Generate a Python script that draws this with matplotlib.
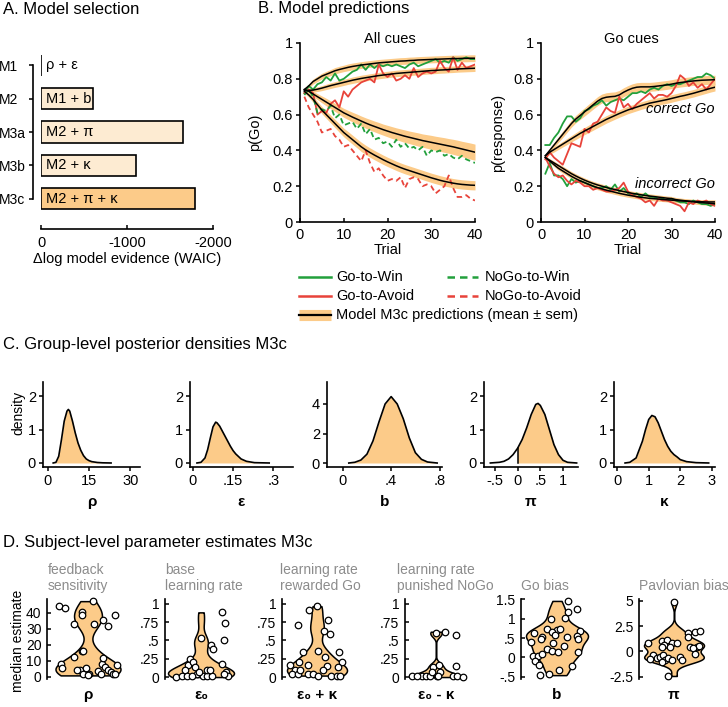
import numpy as np
import matplotlib
matplotlib.use('Agg')
import matplotlib.pyplot as plt

plt.rcParams['font.family'] = ['Liberation Sans', 'DejaVu Sans']
plt.rcParams['font.size'] = 10
plt.rcParams['axes.linewidth'] = 1.2

ORANGE = '#FCCB89'
LIGHT = '#FDEBD2'
GREEN = '#22A03C'
RED = '#E8433A'
GREY = '#8C8C8C'

# ---------------- data ----------------
# A. model selection
models = ['M1', 'M2', 'M3a', 'M3b', 'M3c']
model_desc = ['\u03c1 + \u03b5', 'M1 + b', 'M2 + \u03c0', 'M2 + \u03ba', 'M2 + \u03c0 + \u03ba']
waic = [0, -600, -1650, -1100, -1790]

# B. learning curves, trials 1..40
trial = np.arange(1, 41)
gw_obs = [.72,.76,.74,.77,.78,.81,.79,.83,.79,.80, .82,.84,.85,.88,.85,.88,.86,.88,.87,.88,
          .87,.88,.87,.86,.88,.89,.87,.88,.89,.90, .91,.89,.90,.89,.92,.90,.91,.92,.91,.91]
ga_obs = [.72,.74,.72,.60,.62,.61,.66,.68,.64,.73, .70,.74,.76,.78,.79,.80,.78,.88,.83,.81,
          .83,.79,.80,.82,.80,.86,.81,.83,.84,.83, .84,.90,.86,.84,.92,.85,.89,.86,.87,.88]
nw_obs = [.71,.74,.70,.61,.63,.62,.65,.58,.60,.54, .55,.56,.52,.55,.49,.52,.46,.47,.44,.45,
          .42,.46,.42,.44,.41,.42,.40,.42,.37,.40, .39,.40,.37,.38,.36,.35,.37,.35,.34,.33]
na_obs = [.70,.64,.60,.56,.50,.51,.52,.48,.46,.42, .43,.40,.37,.34,.40,.33,.28,.30,.26,.23,
          .24,.23,.25,.19,.24,.25,.24,.20,.21,.20, .16,.18,.20,.26,.19,.14,.14,.15,.13,.12]
gw_mod = [.74,.76,.785,.80,.815,.825,.835,.845,.852,.858, .864,.869,.873,.877,.880,.883,.886,.889,.891,.893,
          .895,.897,.899,.900,.902,.903,.905,.906,.907,.908, .909,.910,.911,.912,.913,.913,.914,.914,.915,.915]
ga_mod = [.735,.735,.737,.742,.748,.755,.762,.768,.774,.780, .786,.792,.797,.802,.806,.810,.814,.818,.821,.824,
          .827,.830,.832,.834,.836,.838,.840,.842,.844,.846, .847,.849,.850,.852,.853,.855,.856,.857,.858,.859]
nw_mod = [.74,.73,.715,.70,.685,.67,.655,.64,.625,.61, .598,.586,.575,.564,.553,.543,.534,.525,.516,.508,
          .500,.493,.486,.479,.473,.467,.461,.455,.450,.445, .440,.435,.430,.425,.420,.414,.408,.402,.396,.390]
na_mod = [.73,.71,.685,.655,.625,.60,.575,.55,.525,.50, .48,.46,.44,.42,.403,.388,.374,.361,.348,.336,
          .325,.314,.304,.295,.287,.279,.271,.263,.255,.247, .240,.233,.227,.222,.217,.213,.210,.208,.206,.205]
gw_sem = [.010,.012,.014,.015,.016,.017,.017,.018,.018,.018, .019,.019,.019,.019,.019,.019,.019,.019,.019,.019,
          .019,.019,.019,.019,.019,.019,.019,.019,.019,.019, .019,.019,.019,.019,.019,.019,.019,.019,.019,.019]
ga_sem = [.010,.011,.012,.013,.014,.015,.016,.016,.017,.017, .017,.018,.018,.018,.018,.018,.018,.018,.018,.018,
          .018,.018,.018,.018,.018,.018,.018,.018,.018,.018, .018,.018,.018,.018,.018,.018,.018,.018,.018,.018]
nw_sem = [.010,.012,.015,.017,.019,.021,.022,.023,.024,.025, .026,.027,.028,.028,.029,.030,.030,.031,.031,.032,
          .033,.033,.034,.035,.035,.036,.037,.037,.038,.039, .039,.040,.041,.041,.042,.043,.043,.044,.045,.045]
na_sem = [.010,.013,.016,.018,.020,.021,.022,.023,.024,.024, .025,.025,.025,.026,.026,.026,.026,.026,.026,.026,
          .026,.026,.026,.026,.026,.026,.026,.026,.026,.026, .026,.026,.026,.026,.026,.026,.026,.026,.026,.026]

cgw_obs = [.43,.43,.47,.50,.55,.59,.59,.56,.58,.62, .63,.65,.66,.68,.65,.67,.68,.69,.68,.70,
           .72,.72,.73,.72,.74,.75,.74,.76,.77,.76, .77,.77,.78,.79,.80,.81,.81,.83,.82,.80]
cga_obs = [.35,.39,.36,.34,.32,.38,.44,.43,.42,.52, .50,.55,.56,.60,.64,.62,.61,.70,.64,.66,
           .63,.66,.68,.70,.72,.69,.71,.71,.70,.72, .76,.82,.80,.76,.78,.75,.77,.74,.77,.80]
igw_obs = [.27,.33,.26,.26,.24,.20,.24,.22,.23,.22, .21,.20,.19,.19,.20,.18,.21,.17,.19,.16,
           .15,.16,.14,.16,.14,.14,.13,.13,.12,.13, .12,.11,.11,.10,.12,.11,.10,.10,.09,.10]
iga_obs = [.36,.31,.27,.25,.26,.23,.21,.23,.22,.20, .20,.18,.19,.18,.17,.17,.18,.19,.22,.17,
           .15,.14,.13,.11,.12,.09,.13,.12,.12,.11, .10,.09,.06,.11,.10,.12,.11,.12,.10,.09]
cgw_mod = [.37,.40,.43,.46,.49,.52,.55,.575,.595,.615, .635,.655,.675,.69,.697,.70,.702,.71,.725,.737,
           .747,.753,.755,.755,.755,.757,.76,.763,.766,.77, .775,.779,.782,.785,.788,.79,.792,.793,.794,.795]
cga_mod = [.37,.39,.405,.42,.435,.45,.465,.48,.495,.508, .521,.534,.547,.56,.573,.584,.595,.606,.616,.626,
           .634,.642,.650,.657,.664,.669,.674,.679,.684,.69, .696,.702,.707,.713,.719,.726,.733,.74,.747,.753]
igw_mod = [.36,.345,.33,.315,.30,.285,.27,.257,.245,.234, .224,.215,.207,.20,.193,.187,.181,.175,.17,.165,
           .16,.156,.152,.148,.145,.142,.139,.136,.133,.131, .125,.122,.119,.116,.113,.110,.108,.106,.104,.102]
iga_mod = [.36,.34,.32,.30,.285,.27,.255,.242,.23,.22, .21,.20,.192,.185,.178,.172,.166,.16,.155,.15,
           .146,.142,.138,.135,.132,.13,.128,.126,.124,.122, .12,.118,.117,.116,.115,.114,.113,.112,.112,.112]
cgw_sem = [.010,.012,.014,.016,.018,.019,.020,.021,.022,.023, .024,.024,.025,.025,.025,.025,.025,.025,.025,.025,
           .025,.025,.025,.025,.025,.025,.025,.025,.025,.025, .025,.025,.025,.025,.025,.025,.025,.025,.025,.025]
cga_sem = [.010,.012,.014,.015,.016,.017,.018,.019,.020,.020, .021,.021,.021,.021,.021,.021,.021,.021,.021,.021,
           .021,.021,.021,.021,.021,.021,.021,.021,.021,.021, .021,.021,.021,.021,.021,.021,.021,.021,.021,.021]
igw_sem = [.008,.009,.010,.011,.012,.012,.012,.012,.012,.012, .012,.012,.012,.012,.012,.012,.012,.012,.012,.012,
           .012,.012,.012,.012,.012,.012,.012,.012,.012,.012, .012,.012,.012,.012,.012,.012,.012,.012,.012,.012]
iga_sem = igw_sem

# C. group-level posterior densities
rho_x = [2, 3, 4, 5, 6, 7, 7.5, 8, 9, 10, 11, 12, 13, 14, 15, 16, 18, 20, 23]
rho_y = [0, .02, .2, .7, 1.25, 1.55, 1.6, 1.55, 1.25, .9, .6, .38, .22, .12, .07, .04, .015, .005, 0]
eps_x = [.015, .03, .045, .055, .065, .075, .085, .09, .1, .11, .12, .13, .14, .15, .16, .18, .2, .23, .285]
eps_y = [0, .02, .15, .4, .75, 1.08, 1.22, 1.2, 1.1, .95, .8, .65, .5, .37, .27, .12, .05, .01, 0]
b_x = [.05, .1, .15, .2, .25, .3, .35, .4, .45, .5, .55, .6, .65, .7, .78]
b_y = [0, .05, .2, .6, 1.5, 2.8, 4.0, 4.5, 4.0, 3.0, 1.7, .7, .25, .07, 0]
pi_x = [-.6, -.4, -.3, -.2, -.1, 0, .1, .2, .3, .4, .45, .5, .6, .7, .8, .9, 1.0, 1.1, 1.3]
pi_y = [0, .02, .05, .12, .25, .44, .7, 1.05, 1.45, 1.75, 1.78, 1.72, 1.45, 1.0, .55, .25, .08, .02, 0]
kap_x = [.25, .4, .6, .8, .9, 1.0, 1.1, 1.2, 1.3, 1.4, 1.5, 1.6, 1.7, 1.8, 1.9, 2.0, 2.2, 2.5, 2.9]
kap_y = [0, .02, .15, .65, 1.0, 1.3, 1.42, 1.38, 1.2, .95, .7, .5, .35, .25, .18, .1, .04, .01, 0]

# D. subject-level medians (value, horizontal jitter in px)
rho_v = [44.6, 43, 33, 40.4, 38.7, 47.4, 33.3, 35.8, 31.6, 38.7, 8, 5.9, 12.6, 16.4, 16.4, 4.2,
         4.2, 5.9, 1.7, 1.7, 1, 3.8, 8, 11.6, 1.7, 6.3, 4.6, 3.2, 2.1, 7.6, 2.1]
rho_j = [-29, -23, -14, -6, -6, 5, 6, 15, 20, 27, -27, -26, -14, -6, -5, -8, -11, -2, 1, -5, 0,
         10, 14, 15, 13, 17, 20, 23, 25, 29, 27]
e0_v = [.885, .74, .51, .54, .44, .38, .18, .25, .16, .21, .10, .14, 0, .01, .01, .04, .01, .01,
        .01, .09, .09, .01, .07, .01, .04, .07]
e0_j = [21, 24, 23, 0, 10, 12, 21, -11, -13, -8, -16, -6, -25, -19, -14, -4, 2, 6, 11, 6, 9, -9,
        25, 27, 23, -2]
epk_v = [.97, .92, .71, .78, .63, .59, .34, .36, .34, .17, .20, .16, .27, .15, .21, .14, .09, .04,
         .04, .04, .04, .02, .02, .02, .02, .10, .09]
epk_j = [0, -8, -19, 11, 7, 13, -14, 1, 22, -27, -18, -9, 8, 10, 25, 21, -22, -25, -19, -9, -4, 1,
         14, 20, 23, -17, 6]
emk_v = [.62, .58, .60, .14, .16, .15, .02, .01, .01, .01, .01, .07, .07, .01, .01, 0, .01, .01]
emk_j = [9, 20, 0, -3, 3, 20, -24, -14, -10, -6, 1, 4, -4, 17, 21, 27, -19, 2]
bias_v = [1.46, 1.25, 1.18, 1.01, .98, .73, .72, .73, .66, .58, .68, .55, .47, .52, .64, .52, .47,
          .39, .38, .21, .17, .15, .29, .15, .03, .03, -.09, -.2, .09, -.22, -.34, -.44, -.46]
bias_j = [11, 20, 11, 8, -6, -10, 0, 3, -5, -2, 23, 20, 21, 10, -23, -15, -16, -26, -4, -10, -5,
          1, 7, 21, -24, -19, -22, -18, -15, 15, 2, -8, -17]
pav_v = [4.9, .79, 1.05, 1.12, .86, .86, .62, .39, .46, 1.84, 1.94, 2.04, 1.45, .46, .46, .53, .3,
         -.26, -.36, -.69, -.79, -.53, -.36, -.86, -.69, -.86, -.59, -.86, -1.09, -2.43]
pav_j = [0, -26, -12, -7, -2, 3, -10, -4, -12, 14, 21, 26, 14, 16, 23, 25, 19, 21, -21, -17, -24,
         -14, -11, -9, -6, -2, 6, 8, -12, -6]

# ---------------- figure ----------------
W, H = 728, 707
fig = plt.figure(figsize=(W / 100, H / 100), dpi=100)


def px_axes(l, t, r, b):
    return fig.add_axes([l / W, 1 - b / H, (r - l) / W, (b - t) / H])


def ftext(x, y, s, **kw):
    fig.text(x / W, 1 - y / H, s, **kw)


def clean(ax):
    for s in ['top', 'right']:
        ax.spines[s].set_visible(False)
    ax.tick_params(direction='out', length=3, width=1.1, labelsize=10, pad=2)


ftext(3, 9, 'A. Model selection', fontsize=12, va='center')
ftext(258, 9, 'B. Model predictions', fontsize=12, va='center')
ftext(3, 345, 'C. Group-level posterior densities M3c', fontsize=12, va='center')
ftext(3, 543, 'D. Subject-level parameter estimates M3c', fontsize=12, va='center')

# ---- A ----
axA = px_axes(41, 52, 213, 212)
bar_cols = [LIGHT, LIGHT, LIGHT, LIGHT, ORANGE]
axA.barh(range(5), waic, height=0.63, color=bar_cols, edgecolor='black', linewidth=1.2)
for i, d in enumerate(model_desc):
    axA.text(-55, i, d, va='center', ha='left', fontsize=10.5)
axA.set_xlim(0, -2000)
axA.set_ylim(4.39, -0.39)
clean(axA)
axA.spines['left'].set_position(('outward', 6))
axA.spines['left'].set_bounds(0, 4)
axA.spines['bottom'].set_position(('outward', 12))
axA.spines['bottom'].set_bounds(-2000, 0)
axA.set_yticks(range(5))
axA.set_yticklabels(models)
axA.tick_params(axis='y', pad=21)
for lab in axA.get_yticklabels():
    lab.set_horizontalalignment('left')
axA.set_xticks([0, -1000, -2000])
axA.set_xticklabels(['0', '-1000', '-2000'])
axA.tick_params(axis='x', direction='in', pad=5, labelsize=10.5)
axA.set_xlabel('\u0394log model evidence (WAIC)', fontsize=10.5, labelpad=2)

# ---- B ----
def curves(ax, obs, mods, sems, styles):
    for m, s in zip(mods, sems):
        m = np.array(m); s = np.array(s)
        ax.fill_between(trial, m - s, m + s, color=ORANGE, lw=0)
    for o, (c, ls) in zip(obs, styles):
        ax.plot(trial, o, color=c, lw=1.3, ls=ls)
    for m in mods:
        ax.plot(trial, m, color='black', lw=1.1)
    ax.set_xlim(0, 40)
    ax.set_ylim(0, 1)
    ax.set_xticks([0, 10, 20, 30, 40])
    ax.set_yticks([0, .2, .4, .6, .8, 1])
    ax.set_yticklabels(['0', '0.2', '0.4', '0.6', '0.8', '1'])
    clean(ax)
    ax.tick_params(labelsize=10.5)
    ax.tick_params(axis='x', direction='in', pad=4)
    ax.set_xlabel('Trial', fontsize=10.5)
    ax.xaxis.set_label_coords(0.5, -0.12)


dash = (0, (3, 2))
axB1 = px_axes(300, 43, 475, 222)
curves(axB1, [gw_obs, ga_obs, nw_obs, na_obs], [gw_mod, ga_mod, nw_mod, na_mod],
       [gw_sem, ga_sem, nw_sem, na_sem],
       [(GREEN, '-'), (RED, '-'), (GREEN, dash), (RED, dash)])
axB1.text(20.5, 1.0, 'All cues', ha='center', va='baseline', fontsize=10.5)
axB1.set_ylabel('p(Go)', fontsize=10.5)
axB1.yaxis.set_label_coords(-0.215, 0.5)

axB2 = px_axes(541, 43, 715, 222)
curves(axB2, [cgw_obs, cga_obs, igw_obs, iga_obs], [cgw_mod, cga_mod, igw_mod, iga_mod],
       [cgw_sem, cga_sem, igw_sem, iga_sem],
       [(GREEN, '-'), (RED, '-'), (GREEN, '-'), (RED, '-')])
axB2.text(20.7, 1.0, 'Go cues', ha='center', va='baseline', fontsize=10.5)
axB2.set_ylabel('p(response)', fontsize=10.5)
axB2.yaxis.set_label_coords(-0.205, 0.5)
axB2.text(40, 0.63, 'correct Go', ha='right', va='center', style='italic', fontsize=10.5)
axB2.text(40, 0.21, 'incorrect Go', ha='right', va='center', style='italic', fontsize=10.5)

# legend drawn in a pixel-space overlay
axL = px_axes(290, 265, 620, 325)
axL.set_xlim(290, 620)
axL.set_ylim(325, 265)
axL.axis('off')
axL.plot([299, 331], [277, 277], color=GREEN, lw=1.8)
axL.plot([299, 331], [296, 296], color=RED, lw=1.8)
axL.plot([299, 331], [315, 315], color=ORANGE, lw=8, solid_capstyle='butt')
axL.plot([299, 331], [315, 315], color='black', lw=1.6)
axL.plot([447, 478], [277, 277], color=GREEN, lw=1.8, ls=(0, (3, 2)))
axL.plot([447, 478], [296, 296], color=RED, lw=1.8, ls=(0, (3, 2)))
for x, y, s in [(336, 277, 'Go-to-Win'), (336, 296, 'Go-to-Avoid'),
                (336, 315, 'Model M3c predictions (mean \u00b1 sem)'),
                (485, 277, 'NoGo-to-Win'), (485, 296, 'NoGo-to-Avoid')]:
    axL.text(x, y, s, va='center', ha='left', fontsize=10.5)

# ---- C ----
dens = [
    (43, 140, rho_x, rho_y, (-1.7, 33.5), (-0.12, 2.42), [0, 1, 2], [0, 15, 30], ['0', '15', '30'], '\u03c1'),
    (190, 293, eps_x, eps_y, (-0.011, 0.374), (-0.12, 2.42), [0, 1, 2], [0, .15, .3], ['0', '.15', '.3'], '\u03b5'),
    (327, 442, b_x, b_y, (-0.13, 0.82), (-0.27, 5.49), [0, 2, 4], [0, .4, .8], ['0', '.4', '.8'], 'b'),
    (484, 578, pi_x, pi_y, (-0.74, 1.33), (-0.12, 2.42), [0, 1, 2], [-.5, 0, .5, 1], ['-.5', '0', '.5', '1'], '\u03c0'),
    (614, 715, kap_x, kap_y, (-0.1, 3.1), (-0.12, 2.42), [0, 1, 2], [0, 1, 2, 3], ['0', '1', '2', '3'], '\u03ba'),
]
for l, r, xs, ys, xl, yl, yt, xt, xtl, lab in dens:
    ax = px_axes(l, 382, r, 467)
    xs = np.array(xs); ys = np.array(ys)
    if lab == '\u03c0':
        ax.fill_between(xs, 0, ys, where=xs >= 0, color=ORANGE, lw=0)
        ax.plot([0, 0], [0, pi_y[pi_x.index(0)]], color='black', lw=1.1)
    else:
        ax.fill_between(xs, 0, ys, color=ORANGE, lw=0)
    ax.plot(xs, ys, color='black', lw=1.2)
    ax.set_xlim(*xl)
    ax.set_ylim(*yl)
    ax.set_yticks(yt)
    ax.set_xticks(xt)
    ax.set_xticklabels(xtl)
    clean(ax)
    ax.tick_params(labelsize=10.5)
    ax.set_xlabel(lab, fontsize=11, fontweight='bold')
    ax.xaxis.set_label_coords(0.5, -0.33)
ftext(18, 413, 'density', rotation=90, ha='center', va='center', fontsize=10)

# ---- D ----
viol = [
    (47, 88, 127, rho_v, rho_j, (-1.25, 48.75), [0, 10, 20, 30, 40], ['0', '10', '20', '30', '40'],
     '\u03c1', 'feedback\nsensitivity', 65, 0.35),
    (165, 201, 237, e0_v, e0_j, (-0.027, 1.068), [0, .25, .5, .75, 1], ['0', '.25', '.5', '.75', '1'],
     '\u03b5\u2080', 'base\nlearning rate', 66, 0.35),
    (282, 317, 352, epk_v, epk_j, (-0.027, 1.068), [0, .25, .5, .75, 1], ['0', '.25', '.5', '.75', '1'],
     '\u03b5\u2080 + \u03ba', 'learning rate\nrewarded Go', 60, 0.35),
    (405, 436, 470, emk_v, emk_j, (-0.027, 1.068), [0, .25, .5, .75, 1], ['0', '.25', '.5', '.75', '1'],
     '\u03b5\u2080 - \u03ba', 'learning rate\npunished NoGo', 44, 0.22),
    (521, 557, 595, bias_v, bias_j, (-0.56, 1.51), [-.5, 0, .5, 1, 1.5], ['-.5', '0', '.5', '1', '1.5'],
     'b', 'Go bias', 62, 0.35),
    (639, 674, 710, pav_v, pav_j, (-2.73, 5.17), [-2.5, 0, 2.5, 5], ['-2.5', '0', '2.5', '5'],
     '\u03c0', 'Pavlovian bias', 60, 0.35),
]
title_x = [48, 165, 280, 397, 521, 639]
for k, (l, c, r, vals, jit, yl, yt, ytl, lab, title, w, bw) in enumerate(viol):
    ax = px_axes(l, 599, r, 679)
    parts = ax.violinplot([vals], positions=[0], widths=w, showextrema=False, bw_method=bw)
    for pc in parts['bodies']:
        pc.set_facecolor(ORANGE)
        pc.set_edgecolor('black')
        pc.set_alpha(1)
        pc.set_linewidth(1.1)
    ax.scatter(jit, vals, s=22, facecolor='white', edgecolor='black', linewidth=0.9, zorder=3, clip_on=False)
    ax.set_xlim(l - c, r - c)
    ax.set_ylim(*yl)
    ax.set_yticks(yt)
    ax.set_yticklabels(ytl)
    ax.set_xticks([])
    clean(ax)
    ax.tick_params(axis='y', direction='in', pad=4)
    ax.spines['bottom'].set_visible(False)
    ax.text((c - l) / (r - l), -0.2, lab, transform=ax.transAxes,
            fontsize=11, fontweight='bold', ha='center', va='center')
    lines = title.split('\n')
    if len(lines) == 2:
        ftext(title_x[k], 570, lines[0], color=GREY, fontsize=10, va='center')
    ftext(title_x[k], 586, lines[-1], color=GREY, fontsize=10, va='center')
ftext(18, 641, 'median estimate', rotation=90, ha='center', va='center', fontsize=10)

fig.savefig('out.png', dpi=100)
